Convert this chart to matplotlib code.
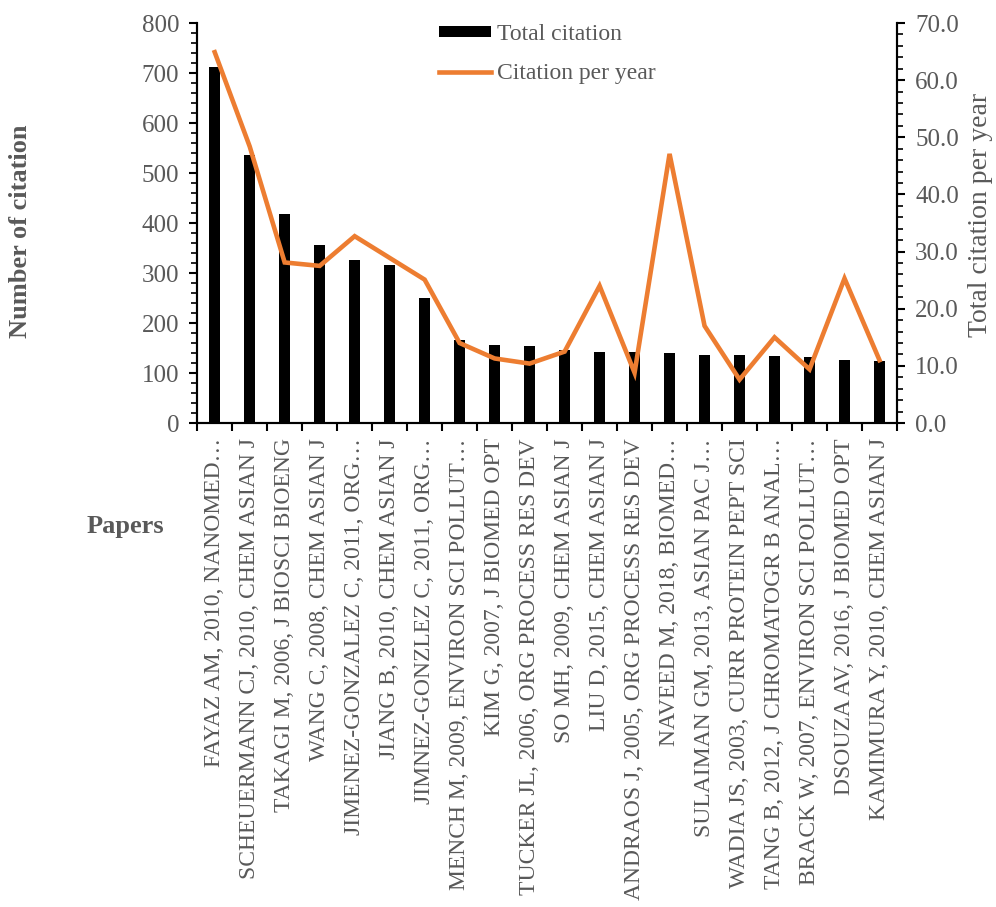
import numpy as np
import matplotlib.pyplot as plt
from matplotlib.ticker import MultipleLocator, FormatStrFormatter

# datos
papers = [
    "FAYAZ AM, 2010, NANOMED…",
    "SCHEUERMANN CJ, 2010, CHEM ASIAN J",
    "TAKAGI M, 2006, J BIOSCI BIOENG",
    "WANG C, 2008, CHEM ASIAN J",
    "JIMENEZ-GONZALEZ C, 2011, ORG…",
    "JIANG B, 2010, CHEM ASIAN J",
    "JIMNEZ-GONZLEZ C, 2011, ORG…",
    "MENCH M, 2009, ENVIRON SCI POLLUT…",
    "KIM G, 2007, J BIOMED OPT",
    "TUCKER JL, 2006, ORG PROCESS RES DEV",
    "SO MH, 2009, CHEM ASIAN J",
    "LIU D, 2015, CHEM ASIAN J",
    "ANDRAOS J, 2005, ORG PROCESS RES DEV",
    "NAVEED M, 2018, BIOMED…",
    "SULAIMAN GM, 2013, ASIAN PAC J…",
    "WADIA JS, 2003, CURR PROTEIN PEPT SCI",
    "TANG B, 2012, J CHROMATOGR B ANAL…",
    "BRACK W, 2007, ENVIRON SCI POLLUT…",
    "DSOUZA AV, 2016, J BIOMED OPT",
    "KAMIMURA Y, 2010, CHEM ASIAN J",
]
total_citation = [712, 536, 419, 357, 326, 317, 251, 167, 156, 154,
                  147, 143, 143, 141, 136, 136, 134, 132, 127, 124]
citation_per_year = [64.9, 48.4, 28.1, 27.5, 32.7, 28.9, 25.1, 14.0, 11.3, 10.4,
                     12.5, 24.0, 8.8, 47.1, 17.0, 7.6, 15.0, 9.4, 25.3, 11.0]

gris = "#595959"
naranja = "#ED7D31"
plt.rcParams["font.family"] = ["Liberation Serif", "DejaVu Serif"]

fig = plt.figure(figsize=(9.96, 9.07), dpi=100)
ax = fig.add_axes([0.198, 0.5336, 0.7026, 0.441])
ax2 = ax.twinx()

x = np.arange(len(papers))
ax.bar(x, total_citation, width=0.33, color="black", label="Total citation", zorder=2)
ax2.plot(x, citation_per_year, color=naranja, linewidth=3.3, label="Citation per year",
         solid_joinstyle="miter")

ax.set_xlim(-0.5, len(papers) - 0.5)
ax.set_ylim(0, 800)
ax2.set_ylim(0, 70)

# ejes y
ax.yaxis.set_major_locator(MultipleLocator(100))
ax.yaxis.set_minor_locator(MultipleLocator(20))
ax2.yaxis.set_major_locator(MultipleLocator(10))
ax2.yaxis.set_minor_locator(MultipleLocator(2))
ax2.yaxis.set_major_formatter(FormatStrFormatter("%.1f"))
for a in (ax, ax2):
    a.tick_params(axis="y", which="major", length=6, width=1.5, labelsize=18,
                  labelcolor=gris, direction="out", pad=7)
    a.tick_params(axis="y", which="minor", length=4, width=1.2, direction="out")
    a.spines["top"].set_visible(False)
    for s in ("left", "right", "bottom"):
        a.spines[s].set_linewidth(1.5)

# eje x: etiquetas en el centro, marcas entre categorias
ax.set_xticks(x)
ax.set_xticklabels(papers, rotation=90, fontsize=17, color=gris)
ax.tick_params(axis="x", which="major", length=0, pad=11)
ax.set_xticks(np.arange(-0.5, len(papers), 1), minor=True)
ax.tick_params(axis="x", which="minor", length=6, width=1.5, direction="out")

# titulos de los ejes
fig.text(0.021, 0.745, "Number of citation", rotation=90, ha="center", va="center",
         fontsize=19, fontweight="bold", color=gris)
fig.text(0.126, 0.419, "Papers", ha="center", va="center",
         fontsize=19, fontweight="bold", color=gris)
fig.text(0.984, 0.763, "Total citation per year", rotation=90, ha="center", va="center",
         fontsize=20, color=gris)

# leyenda
h1, l1 = ax.get_legend_handles_labels()
h2, l2 = ax2.get_legend_handles_labels()
leg = ax2.legend(h1 + h2, l1 + l2, loc="upper center", bbox_to_anchor=(0.5, 1.05),
                 frameon=False, fontsize=17, handlelength=2.2, handleheight=0.35,
                 labelspacing=0.75, handletextpad=0.25)
for t in leg.get_texts():
    t.set_color(gris)

fig.savefig("out.png", dpi=100)
